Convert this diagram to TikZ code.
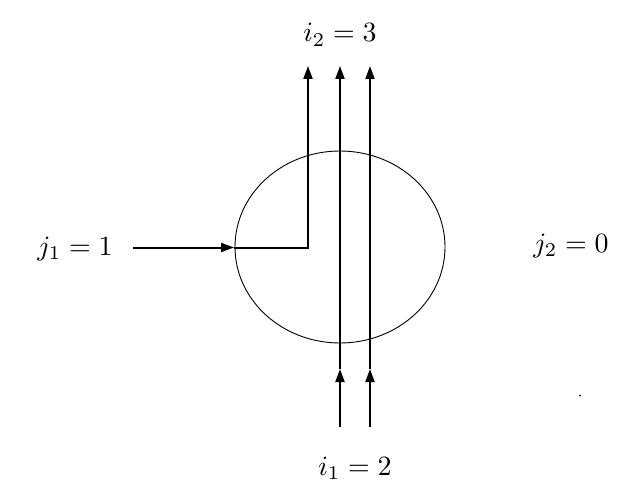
\documentclass[tikz,border=0pt]{standalone}
\usepackage{graphicx}
\usetikzlibrary{arrows.meta}
\newcommand{\biglbl}[1]{\scalebox{2.8}{$#1$}}
\begin{document}
\begin{tikzpicture}[x=1bp,y=-1bp,
  lbl/.style={inner sep=0pt, anchor=base},
  flow/.style={line width=2bp, black},
  tip/.style={-{Triangle[length=13bp,width=9bp]}},
  blob/.style={line width=0.9bp, black}]
\useasboundingbox (0,0) rectangle (625,488);
% ellipse
\draw[blob] (340,247) ellipse [x radius=105, y radius=96];
% labels
\node[lbl] (i2) at (340,42) {\biglbl{i_2 = 3}};
\node[lbl] (j1) at (75,255.5) {\biglbl{j_1 = 1}};
\node[lbl] (j2) at (571,252) {\biglbl{j_2 = 0}};
\node[lbl] (i1) at (355,475) {\biglbl{i_1 = 2}};
% coordinates
\coordinate (hs) at (133,247.5);
\coordinate (ht) at (234,247.5);
\coordinate (corner) at (308,247.5);
\coordinate (t1) at (308,66);
\coordinate (b2) at (340,427);
\coordinate (m2) at (340,369);
\coordinate (c2) at (340,247);
\coordinate (t2) at (340,66);
\coordinate (b3) at (370,427);
\coordinate (m3) at (370,369);
\coordinate (c3) at (370,247);
\coordinate (t3) at (370,66);
% incoming j1 line, bent upward
\draw[flow,tip] (hs) -- (ht);
\draw[flow,tip] (ht) -- (corner) -- (t1);
% two straight lines
\draw[flow,tip] (b2) -- (m2);
\draw[flow] (m2) -- (c2);
\draw[flow,tip] (c2) -- (t2);
\draw[flow,tip] (b3) -- (m3);
\draw[flow] (m3) -- (c3);
\draw[flow,tip] (c3) -- (t3);
% stray dot
\fill (580,395.5) circle (1bp);
\end{tikzpicture}
\end{document}
